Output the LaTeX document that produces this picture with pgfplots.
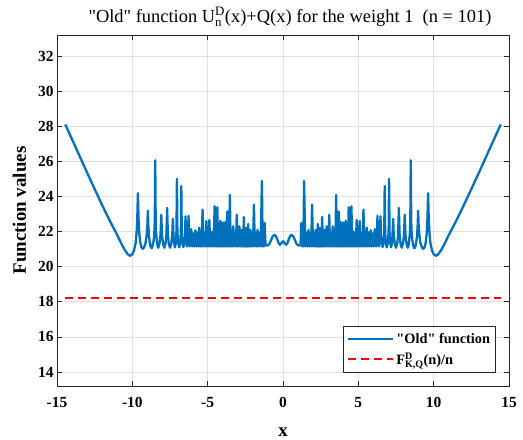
\documentclass[border=0pt]{standalone}
\usepackage{fontspec}
\setmainfont{Liberation Serif}[Ligatures=TeXOff]
\usepackage{amsmath}
\usepackage{pgfplots}
\pgfplotsset{compat=1.18}
\pgfplotsset{legend image code/.code={\draw[#1] (0bp,0bp) -- (45bp,0bp);}}
\definecolor{mblue}{rgb}{0,0.447,0.741}
\definecolor{gridc}{rgb}{0.88,0.88,0.88}
\definecolor{axc}{rgb}{0.15,0.15,0.15}
\pgfplotstableread{
x y
-14.45 28.10
-14.0 27.25
-13.5 26.30
-13.0 25.35
-12.5 24.42
-12.0 23.50
-11.5 22.62
-11.0 21.80
-10.75 21.35
-10.5 20.95
-10.3 20.70
-10.15 20.62
-10.0 20.70
-9.88 20.95
-9.78 21.35
-9.72 21.90
-9.67 22.80
-9.63 24.19
-9.59 22.80
-9.54 21.90
-9.47 21.35
-9.38 21.08
-9.30 21.02
-9.22 21.10
-9.12 21.35
-9.05 21.80
-9.00 22.40
-8.97 23.19
-8.94 22.40
-8.90 21.80
-8.84 21.35
-8.77 21.10
-8.72 21.05
-8.66 21.15
-8.59 21.45
-8.54 21.90
-8.51 22.60
-8.48 26.06
-8.45 22.60
-8.42 21.90
-8.37 21.45
-8.32 21.15
-8.28 21.08
-8.20 21.30
-8.13 21.80
-8.08 22.95
-8.03 21.80
-7.96 21.30
-7.88 21.08
-7.80 21.30
-7.74 21.80
-7.69 23.35
-7.64 21.80
-7.58 21.30
-7.50 21.08
-7.42 21.30
-7.35 21.80
-7.31 22.72
-7.27 21.80
-7.22 21.30
-7.17 21.10
-7.12 21.35
-7.07 22.00
-7.04 25.00
-7.01 22.00
-6.96 21.35
-6.89 21.10
-6.82 21.35
-6.78 22.00
-6.75 24.59
-6.72 22.00
-6.67 21.35
-6.61 21.12
-6.53 21.40
-6.50 21.90
-6.47 22.87
-6.44 21.90
-6.40 21.40
-6.37 21.15
-6.31 21.50
-6.27 22.90
-6.23 21.50
-6.18 21.15
-6.09 22.14
-6.02 21.15
-5.95 21.90
-5.88 21.15
-5.82 22.07
-5.75 21.15
-5.69 21.95
-5.62 21.15
-5.56 22.22
-5.50 21.15
-5.45 21.95
-5.40 21.15
-5.34 23.25
-5.28 21.15
-5.21 21.95
-5.15 21.15
-5.09 22.60
-5.04 21.15
-4.99 21.90
-4.94 21.15
-4.89 22.66
-4.83 21.15
-4.78 21.95
-4.72 21.15
-4.66 22.00
-4.60 21.15
-4.54 23.44
-4.50 21.15
-4.45 21.95
-4.40 21.15
-4.36 23.39
-4.31 21.15
-4.26 21.95
-4.21 21.15
-4.16 22.62
-4.11 21.15
-4.07 21.90
-4.03 21.15
-3.99 22.52
-3.94 21.15
-3.90 21.95
-3.85 21.15
-3.81 22.56
-3.75 21.15
-3.70 23.14
-3.65 21.15
-3.61 21.95
-3.57 21.15
-3.53 24.09
-3.47 21.15
-3.42 21.95
-3.36 21.15
-3.30 22.30
-3.24 21.15
-3.18 21.95
-3.12 21.15
-3.07 22.95
-3.02 21.15
-2.98 21.90
-2.94 21.15
-2.90 22.30
-2.83 21.15
-2.77 22.10
-2.72 21.15
-2.68 21.90
-2.64 21.15
-2.60 22.83
-2.56 21.15
-2.52 21.90
-2.48 21.15
-2.45 22.20
-2.41 21.15
-2.38 21.95
-2.34 21.15
-2.31 22.43
-2.27 21.15
-2.24 21.90
-2.20 21.15
-2.17 22.10
-2.11 21.15
-2.05 21.95
-1.99 21.15
-1.93 23.54
-1.87 21.15
-1.81 21.95
-1.75 21.15
-1.69 22.10
-1.62 21.15
-1.55 21.95
-1.48 21.15
-1.40 24.88
-1.35 21.15
-1.30 21.90
-1.26 21.15
-1.22 22.49
-1.16 21.25
-1.08 21.20
-1.00 21.22
-0.90 21.30
-0.80 21.50
-0.70 21.70
-0.60 21.80
-0.50 21.78
-0.40 21.60
-0.30 21.35
-0.20 21.25
-0.10 21.35
0.00 21.45
0.10 21.35
0.20 21.25
0.30 21.35
0.40 21.60
0.50 21.78
0.60 21.80
0.70 21.70
0.80 21.50
0.90 21.30
1.00 21.22
1.08 21.20
1.16 21.25
1.22 22.49
1.26 21.15
1.30 21.90
1.35 21.15
1.40 24.88
1.48 21.15
1.55 21.95
1.62 21.15
1.69 22.10
1.75 21.15
1.81 21.95
1.87 21.15
1.93 23.54
1.99 21.15
2.05 21.95
2.11 21.15
2.17 22.10
2.20 21.15
2.24 21.90
2.27 21.15
2.31 22.43
2.34 21.15
2.38 21.95
2.41 21.15
2.45 22.20
2.48 21.15
2.52 21.90
2.56 21.15
2.60 22.83
2.64 21.15
2.68 21.90
2.72 21.15
2.77 22.10
2.83 21.15
2.90 22.30
2.94 21.15
2.98 21.90
3.02 21.15
3.07 22.95
3.12 21.15
3.18 21.95
3.24 21.15
3.30 22.30
3.36 21.15
3.42 21.95
3.47 21.15
3.53 24.09
3.57 21.15
3.61 21.95
3.65 21.15
3.70 23.14
3.75 21.15
3.81 22.56
3.85 21.15
3.90 21.95
3.94 21.15
3.99 22.52
4.03 21.15
4.07 21.90
4.11 21.15
4.16 22.62
4.21 21.15
4.26 21.95
4.31 21.15
4.36 23.39
4.40 21.15
4.45 21.95
4.50 21.15
4.54 23.44
4.60 21.15
4.66 22.00
4.72 21.15
4.78 21.95
4.83 21.15
4.89 22.66
4.94 21.15
4.99 21.90
5.04 21.15
5.09 22.60
5.15 21.15
5.21 21.95
5.28 21.15
5.34 23.25
5.40 21.15
5.45 21.95
5.50 21.15
5.56 22.22
5.62 21.15
5.69 21.95
5.75 21.15
5.82 22.07
5.88 21.15
5.95 21.90
6.02 21.15
6.09 22.14
6.18 21.15
6.23 21.50
6.27 22.90
6.31 21.50
6.37 21.15
6.40 21.40
6.44 21.90
6.47 22.87
6.50 21.90
6.53 21.40
6.61 21.12
6.67 21.35
6.72 22.00
6.75 24.59
6.78 22.00
6.82 21.35
6.89 21.10
6.96 21.35
7.01 22.00
7.04 25.00
7.07 22.00
7.12 21.35
7.17 21.10
7.22 21.30
7.27 21.80
7.31 22.72
7.35 21.80
7.42 21.30
7.50 21.08
7.58 21.30
7.64 21.80
7.69 23.35
7.74 21.80
7.80 21.30
7.88 21.08
7.96 21.30
8.03 21.80
8.08 22.95
8.13 21.80
8.20 21.30
8.28 21.08
8.32 21.15
8.37 21.45
8.42 21.90
8.45 22.60
8.48 26.06
8.51 22.60
8.54 21.90
8.59 21.45
8.66 21.15
8.72 21.05
8.77 21.10
8.84 21.35
8.90 21.80
8.94 22.40
8.97 23.19
9.00 22.40
9.05 21.80
9.12 21.35
9.22 21.10
9.30 21.02
9.38 21.08
9.47 21.35
9.54 21.90
9.59 22.80
9.63 24.19
9.67 22.80
9.72 21.90
9.78 21.35
9.88 20.95
10.00 20.70
10.15 20.62
10.30 20.70
10.50 20.95
10.75 21.35
11.00 21.80
11.50 22.62
12.00 23.50
12.50 24.42
13.00 25.35
13.50 26.30
14.00 27.25
14.45 28.10
}\oldfun
\begin{document}
\begin{tikzpicture}
\begin{axis}[
  name=main,
  scale only axis,
  width=452bp, height=351bp,
  xmin=-15, xmax=15, ymin=13.2, ymax=33.2,
  xtick={-15,-10,...,15}, ytick={14,16,...,32},
  tick align=inside,
  major tick length=5bp,
  grid=major,
  major grid style={line width=0.6bp, draw=gridc},
  axis line style={line width=0.7bp, draw=axc},
  every tick/.style={line width=0.6bp, draw=axc},
  tick label style={font=\fontsize{15.5}{15.5}\selectfont\bfseries},
  /pgf/number format/assume math mode=true,
  xticklabel style={yshift=-8bp},
  xlabel={\textbf{x}}, ylabel={\textbf{Function values}},
  label style={font=\fontsize{19}{19}\selectfont\bfseries},
  xlabel style={yshift=-13bp},
  ylabel style={yshift=5bp},
  title={"Old" function U$^{\text{D}}_{\text{n}}$(x)+Q(x) for the weight 1\ \ (n = 101)},
  title style={font=\fontsize{18.5}{19}\selectfont, xshift=7bp, yshift=-1bp},
  legend cell align=left,
  legend style={at={(0.971,0.037)}, anchor=south east, draw=axc, line width=0.6bp,
    font=\fontsize{14.4}{16}\selectfont\bfseries, row sep=4bp, inner ysep=5bp, inner xsep=3.5bp},
  line join=round,
]
\addplot[mblue, line width=2.3bp] table[x=x,y=y] {\oldfun};
\addlegendentry{"Old" function}
\addplot[red, line width=2bp, dash pattern=on 8bp off 5bp] coordinates {(-14.45,18.22) (14.45,18.22)};
\addlegendentry{F$^{\text{D}}_{\text{K,Q}}$(n)/n}
\end{axis}
\pgfresetboundingbox
\path ([shift={(-57bp,-54bp)}]main.south west) rectangle ([shift={(14bp,35bp)}]main.north east);
\end{tikzpicture}
\end{document}
